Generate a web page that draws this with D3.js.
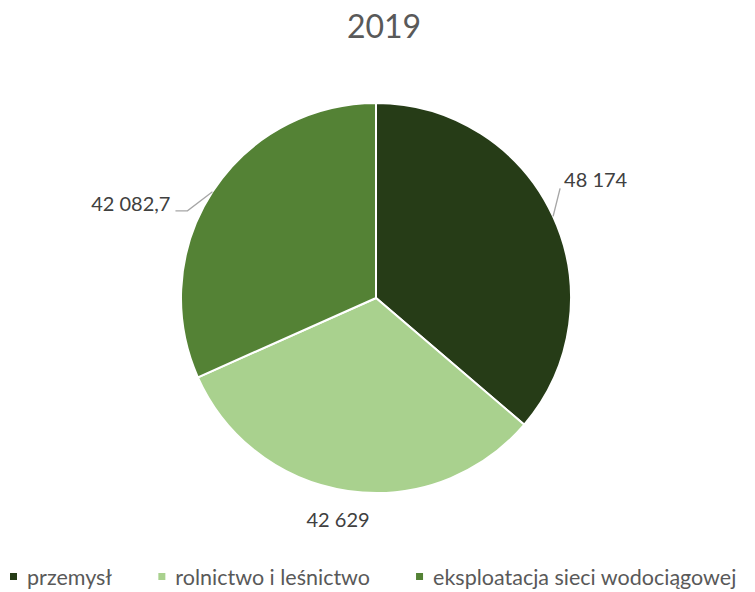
<!DOCTYPE html>
<html>
<head>
<meta charset="utf-8">
<script src="https://cdn.jsdelivr.net/npm/d3@7"></script>
<style>
  body { margin: 0; background: #fff; }
  svg { display: block; font-family: Lato, "Open Sans", sans-serif; }
</style>
</head>
<body>
<svg id="chart" width="755" height="592"></svg>
<script>
var title = '2019'
var categories = ['przemysł', 'rolnictwo i leśnictwo', 'eksploatacja sieci wodociągowej']
var values = [48174, 42629, 42082.7]
var labels = ['48 174', '42 629', '42 082,7']
var colors = ['#263c17', '#a9d18e', '#548235']

// label placement relative to the slice's outer mid point (layout, not data)
var labelLayout = [
  { dx: 11, dy: -29, anchor: 'start', line: [[7, -28]] },
  { dx: -10, dy: 36, anchor: 'middle', line: null },
  { dx: -42, dy: 19, anchor: 'end', line: [[-25, 19], [-37, 19]] }
]

var svg = d3.select('#chart')
var cx = 376, cy = 298, radius = 195

svg.append('text')
  .attr('x', 384)
  .attr('y', 38)
  .attr('text-anchor', 'middle')
  .attr('fill', '#595959')
  .style('font-size', '32px')
  .text(title)

var pie = d3.pie().sort(null).value(function(d) { return d })
var arcs = pie(values)
var arc = d3.arc().innerRadius(0).outerRadius(radius)

var g = svg.append('g').attr('transform', 'translate(' + cx + ',' + cy + ')')

g.selectAll('path.slice')
  .data(arcs)
  .enter()
  .append('path')
  .attr('class', 'slice')
  .attr('d', arc)
  .attr('fill', function(d, i) { return colors[i] })
  .attr('stroke', '#fff')
  .attr('stroke-width', 2)

function edgePoint(d) {
  var a = (d.startAngle + d.endAngle) / 2
  return [radius * Math.sin(a), -radius * Math.cos(a)]
}

arcs.forEach(function(d, i) {
  var p = edgePoint(d),
    lay = labelLayout[i]
  if (lay.line) {
    var pts = [p].concat(lay.line.map(function(o) { return [p[0] + o[0], p[1] + o[1]] }))
    g.append('path')
      .attr('d', d3.line()(pts))
      .attr('fill', 'none')
      .attr('stroke', '#a6a6a6')
      .attr('stroke-width', 1.3)
  }
  g.append('text')
    .attr('x', p[0] + lay.dx)
    .attr('y', p[1] + lay.dy)
    .attr('text-anchor', lay.anchor)
    .attr('fill', '#404040')
    .style('font-size', '20px')
    .text(labels[i])
})

// legend
var legend = svg.append('g').attr('transform', 'translate(0,585)')
var items = legend.selectAll('g.item')
  .data(categories)
  .enter()
  .append('g')
  .attr('class', 'item')
items.append('rect')
  .attr('width', 7)
  .attr('height', 7)
  .attr('y', -12)
  .attr('fill', function(d, i) { return colors[i] })
items.append('text')
  .attr('x', 17)
  .attr('fill', '#595959')
  .style('font-size', '21.5px')
  .text(function(d) { return d })

var widths = []
items.each(function() { widths.push(this.getBBox().width) })
var gap = 46
var x = 10
items.attr('transform', function(d, i) {
  var t = 'translate(' + x + ',0)'
  x += widths[i] + gap
  return t
})
</script>
</body>
</html>
